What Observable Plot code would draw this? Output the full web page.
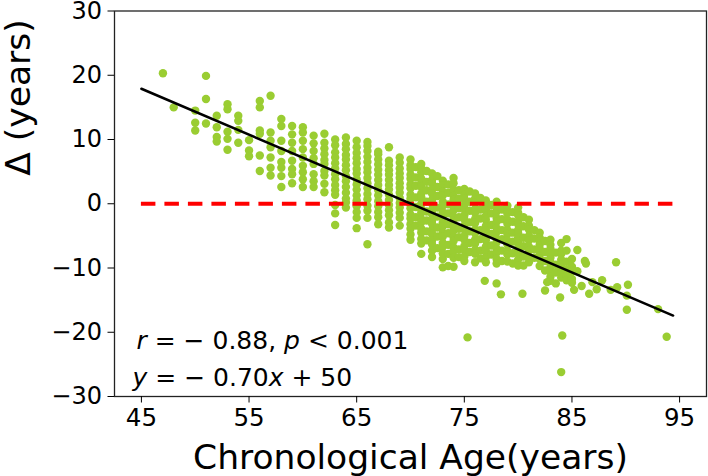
<!DOCTYPE html>
<html><head><meta charset="utf-8">
<script src="https://cdn.jsdelivr.net/npm/d3@7"></script>
<script src="https://cdn.jsdelivr.net/npm/@observablehq/plot@0.6"></script>
<style>body{margin:0;background:#fff}</style>
</head><body><div id="chart"></div>
<script>
// Column groups: chronological age and the Δ values read at that age
const colAges = [47,48,50,51,52,53,54,55,56,57,58,59,60,61,62,63,64,65,66,67,68,69,
  70,70.5,71,71.5,72,72.5,73,73.5,74,74.5,75,75.5,76,76.5,77,77.5,78,78.5,79,79.5,80,80.5,81,81.5,82,82.5,83,83.5,84,84.5,85,85.5];
const colDeltas = [
  [20.3],
  [15.0],
  [14.5,12.6,11.4],
  [19.9,16.3,12.5],
  [13.7,11.9,10.4,9.7],
  [15.5,14.7,11.2,10.1,8.4],
  [13.7,12.9,11.5,9.5],
  [9.9,8.3,7.4],
  [16.0,15.0,11.4,10.9,7.5,5.1],
  [16.8,11.1,9.8,8.8,7.2,5.6,4.4],
  [13.2,12.1,9.8,8.2,6.5,5.6,4.3,2.6],
  [12.1,10.8,9.5,8.2,6.7,5.4,4.6,3.2],
  [11.9,11.1,9.8,8.5,7.2,5.9,4.9,3.8,2.6],
  [10.6,9.4,8.2,7.1,6.2,4.6,3.5,2.6],
  [10.9,9.5,8.6,7.7,6.8,6.2,5.1,4.4,3.1,1.8],
  [10.0,9.1,8.0,7.2,6.3,5.5,4.6,3.8,2.9,2.1,1.4,-0.2,-1.5,-3.3],
  [10.3,9.3,8.5,7.6,6.9,6.0,5.2,4.3,3.5,2.6,1.7,0.8,0.2,-0.6],
  [9.8,8.8,7.9,7.1,6.3,5.4,4.7,3.8,3.0,2.2,1.3,0.5,-0.4,-1.3,-2.2,-3.8],
  [9.6,9.0,8.2,7.3,6.5,5.6,4.9,4.0,3.2,2.4,1.5,0.7,-0.3,-1.1,-2.2,-6.3],
  [8.1,7.7,6.9,6.1,5.3,4.5,3.7,2.9,2.1,1.3,0.4,-0.4,-1.3,-2.1,-3.2],
  [8.8,6.7,6.0,5.2,4.5,3.7,2.9,2.2,1.4,0.6,-0.2,-1.0,-1.8,-2.9,-3.7],
  [7.2,6.4,5.5,4.7,4.0,3.2,2.5,1.7,0.9,0.1,-0.6,-1.4,-2.2,-3.4],
  [6.9,6.0,5.4,4.5,3.9,3.0,2.4,1.4,0.8,-0.1,-0.7,-1.7,-2.3,-3.2,-3.9,-4.8,-5.6],
  [5.7,4.1,2.8,1.0,-0.5,-2.1,-3.4],
  [6.2,5.5,4.9,3.9,3.2,2.6,1.6,1.0,0.0,-0.8,-1.4,-2.4,-2.9,-3.9,-4.5,-5.5,-6.2,-7.8],
  [5.1,3.4,2.1,0.3,-1.2,-2.6,-4.3,-5.7],
  [4.7,3.7,3.2,2.2,1.6,0.6,0.0,-1.0,-1.6,-2.6,-3.1,-4.1,-4.7,-5.7,-6.3,-7.3,-8.3],
  [4.3,2.6,1.2,-0.6,-2.0,-3.7,-5.1,-6.9],
  [3.6,2.9,1.9,1.3,0.3,-0.3,-1.3,-1.9,-2.9,-3.5,-4.5,-5.1,-6.1,-6.7,-7.7,-8.6,-9.9],
  [3.0,1.7,-0.1,-1.5,-3.2,-4.6,-6.4,-7.8,-9.7],
  [4.0,3.2,2.2,1.2,0.6,-0.4,-1.0,-2.0,-2.6,-3.6,-4.2,-5.2,-5.8,-6.8,-7.4,-8.4,-9.8],
  [2.1,0.8,-0.7,-2.1,-3.9,-5.2,-7.1,-8.3],
  [2.3,1.4,0.8,-0.2,-0.8,-1.8,-2.4,-3.4,-4.0,-5.0,-5.6,-6.6,-7.2,-8.2,-8.9],
  [1.9,0.3,-1.1,-2.9,-4.3,-6.1,-7.5],
  [1.6,0.8,0.2,-0.8,-1.4,-2.4,-3.0,-4.0,-4.6,-5.6,-6.2,-7.2,-7.8,-9.1],
  [0.9,-0.9,-2.3,-4.1,-5.5,-7.3,-8.5],
  [0.5,-0.3,-0.9,-1.9,-2.5,-3.5,-4.1,-5.1,-5.7,-6.7,-7.3,-8.3,-9.1],
  [-0.2,-1.5,-3.3,-4.7,-6.5,-7.9],
  [0.3,-0.6,-1.2,-2.2,-2.8,-3.8,-4.4,-5.4,-6.0,-7.0,-7.6,-8.6,-9.3],
  [-0.9,-2.4,-4.1,-5.5,-7.3,-8.9],
  [-0.3,-1.1,-1.5,-2.5,-3.1,-4.1,-4.7,-5.7,-6.3,-7.3,-7.9,-9.0],
  [-1.3,-2.8,-4.5,-5.9,-7.7,-9.3],
  [-0.6,-1.4,-1.8,-2.8,-3.2,-4.1,-4.6,-5.3,-5.9,-6.9,-7.7,-8.7,-9.6],
  [-2.1,-3.5,-5.3,-6.6,-8.2,-9.6],
  [-2.5,-3.4,-4.0,-5.0,-5.7,-6.7,-7.3,-8.3,-9.1],
  [-4.1,-5.4,-7.1,-8.4],
  [-4.5,-5.3,-5.8,-6.4,-7.0,-8.0,-8.6,-9.7],
  [-5.8,-7.5,-8.9,-10.4],
  [-5.6,-6.4,-7.0,-7.8,-8.4,-9.1,-9.8,-10.6,-11.4,-12.0],
  [-7.6,-9.5,-10.7,-12.4],
  [-6.1,-7.3,-7.8,-8.7,-9.4,-10.0,-10.8,-11.5],
  [-5.5,-7.3,-9.0,-10.2,-11.2,-11.9],
  [-8.6,-9.8,-10.5,-11.7,-12.3],
  [-7.2,-10.5]
];
// Sparse points read individually
const sparseAges   = [82.7,82.5,83.9,85.2,85.9,86.6,86.9,87.3,87.8,88.6,89.2,90.2,90.1,90.1,93.0,93.8,84.1,84.0,75.3,80.4,78.4,78.0,76.9,86.2,86.3,89.1];
const sparseDeltas = [-12.2,-13.5,-14.6,-13.4,-12.8,-14.0,-12.2,-13.3,-11.9,-13.4,-13.0,-12.6,-14.3,-16.5,-16.4,-20.7,-20.5,-26.2,-20.8,-14.0,-14.1,-12.4,-12.0,-8.9,-9.3,-9.1];
// Fitted line and zero reference
const fitAges = [45, 94.4];
const fitDeltas = [17.9, -17.4];
const refAges = [45, 94.4];
const refDelta = 0;
const xTicks = [45,55,65,75,85,95];
const yTicks = [-30,-20,-10,0,10,20,30];
const xLabel = "Chronological Age(years)";
const yLabel = "Δ (years)";
const statText = "r = − 0.88, p < 0.001";
const fitText = "y = − 0.70x + 50";

const points = [];
colAges.forEach((a, i) => colDeltas[i].forEach(d => points.push({age: a, delta: d})));
sparseAges.forEach((a, i) => points.push({age: a, delta: sparseDeltas[i]}));
const fit = fitAges.map((a, i) => ({age: a, delta: fitDeltas[i]}));

const chart = Plot.plot({
  width: 708, height: 476,
  marginLeft: 114, marginRight: 2, marginTop: 10.5, marginBottom: 80,
  style: {fontFamily: "DejaVu Sans", fontSize: "24px", background: "white", color: "#000"},
  x: {domain: [42.5, 97.5]},
  y: {domain: [-30, 30]},
  marks: [
    Plot.dot(points, {x: "age", y: "delta", r: 4.2, fill: "#9acd32", stroke: "none"}),
    Plot.ruleY([refDelta], {x1: refAges[0], x2: refAges[1], stroke: "#ff0000", strokeWidth: 4, strokeDasharray: "14.5,9"}),
    Plot.line(fit, {x: "age", y: "delta", stroke: "black", strokeWidth: 2.5}),
    Plot.frame({stroke: "#222", strokeWidth: 1.3}),
    Plot.axisX({ticks: xTicks, tickSize: 6.5, tickPadding: 6, label: null, fontSize: 24.5}),
    Plot.axisY({ticks: yTicks, tickSize: 6.5, tickPadding: 6, label: null, fontSize: 24}),
    Plot.text([xLabel], {frameAnchor: "bottom", dy: 72, lineAnchor: "bottom", fontSize: 34.5}),
    Plot.text([yLabel], {frameAnchor: "left", dx: -85, dy: -28, rotate: -90, lineAnchor: "bottom", fontSize: 34.5}),
    Plot.text([statText], {frameAnchor: "bottom-left", dx: 22, dy: -48, textAnchor: "start", lineAnchor: "bottom", fontSize: 25}),
    Plot.text([fitText], {frameAnchor: "bottom-left", dx: 18, dy: -11, textAnchor: "start", lineAnchor: "bottom", fontSize: 25})
  ]
});

d3.select(chart).selectAll("text").each(function () {
  const t = this.textContent;
  if (t === statText || t === fitText) {
    const parts = t.split(/([rpyx])/);
    this.textContent = "";
    for (const p of parts) {
      if (!p) continue;
      const ts = document.createElementNS("http://www.w3.org/2000/svg", "tspan");
      if (/^[rpyx]$/.test(p)) ts.setAttribute("font-style", "italic");
      ts.textContent = p;
      this.appendChild(ts);
    }
  }
});
document.getElementById("chart").appendChild(chart);
</script>
</body></html>
